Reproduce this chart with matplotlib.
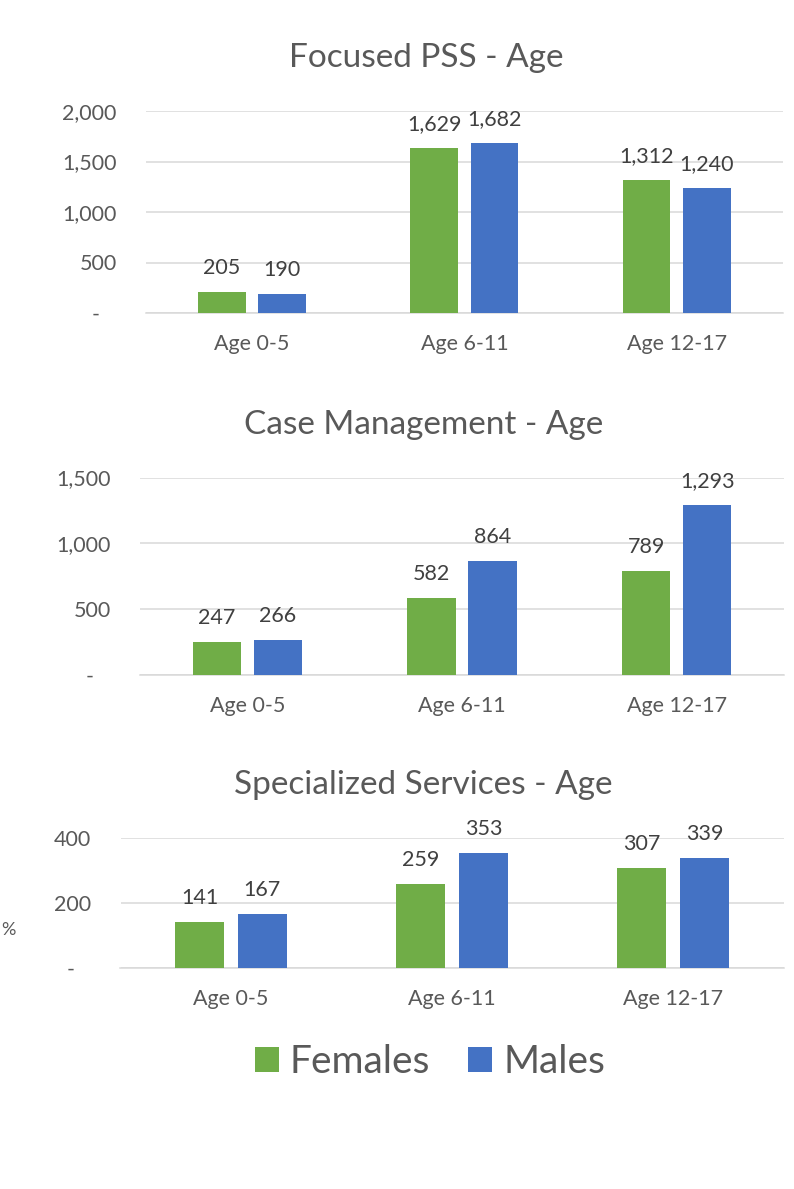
import matplotlib
matplotlib.use("Agg")
import matplotlib.pyplot as plt
from matplotlib.ticker import FuncFormatter
import numpy as np

plt.rcParams['font.family'] = ['Lato', 'DejaVu Sans']

categories = ["Age 0-5", "Age 6-11", "Age 12-17"]
series_names = ["Females", "Males"]

pss_females = [205, 1629, 1312]
pss_males = [190, 1682, 1240]

case_females = [247, 582, 789]
case_males = [266, 864, 1293]

spec_females = [141, 259, 307]
spec_males = [167, 353, 339]

titles = ["Focused PSS - Age", "Case Management - Age", "Specialized Services - Age"]
y_max = [2000, 1500, 400]
y_step = [500, 500, 200]

GREEN = "#70AD47"
BLUE = "#4472C4"
TXT = "#595959"
LBL = "#404040"
GRID = "#D9D9D9"

W, H = 794, 1189
fig = plt.figure(figsize=(W / 100, H / 100), dpi=100)

# axes boxes in pixel coords: left, right, top, bottom
boxes = [(145.75, 783, 111, 313), (140, 784, 477.5, 675), (120.5, 783.5, 838, 968)]
title_pos = [(426, 67), (424, 434), (423, 794)]

data = [(pss_females, pss_males), (case_females, case_males), (spec_females, spec_males)]

fmt = FuncFormatter(lambda v, p: "-   " if v == 0 else f"{int(v):,}")

bw = 0.224
off = 0.142
for i, ((l, r, t, b), (fem, mal)) in enumerate(zip(boxes, data)):
    ax = fig.add_axes([l / W, 1 - b / H, (r - l) / W, (b - t) / H])
    x = np.arange(len(categories))
    bf = ax.bar(x - off, fem, bw, color=GREEN, label=series_names[0], zorder=3)
    bm = ax.bar(x + off, mal, bw, color=BLUE, label=series_names[1], zorder=3)
    ax.set_xlim(-0.5, len(categories) - 0.5)
    ax.set_ylim(0, y_max[i])
    ax.set_yticks(np.arange(0, y_max[i] + 1, y_step[i]))
    ax.yaxis.set_major_formatter(fmt)
    ax.set_xticks(x)
    ax.set_xticklabels(categories)
    ax.grid(axis='y', color=GRID, linewidth=1.1, zorder=0)
    ax.set_axisbelow(True)
    for s in ['left', 'right', 'top']:
        ax.spines[s].set_visible(False)
    ax.spines['bottom'].set_color(GRID)
    ax.spines['bottom'].set_linewidth(1.1)
    ax.spines['bottom'].set_zorder(1)
    ax.tick_params(axis='y', length=0, pad=21, labelsize=15.5, labelcolor=TXT)
    ax.tick_params(axis='x', length=0, pad=15, labelsize=15.5, labelcolor=TXT)
    for bars in (bf, bm):
        for rect in bars:
            h = rect.get_height()
            ax.annotate(f"{int(h):,}", (rect.get_x() + rect.get_width() / 2, h),
                        xytext=(0, 13), textcoords='offset points',
                        ha='center', va='baseline', fontsize=15.5, color=LBL)
    tx, ty = title_pos[i]
    fig.text(tx / W, 1 - ty / H, titles[i], ha='center', va='baseline',
             fontsize=24, color=TXT)
    if i == 0:
        handles = [bf, bm]

fig.text(1 / W, 1 - 935 / H, "%", ha='left', va='baseline', fontsize=13, color=TXT)

fig.legend(handles, series_names, loc='center', bbox_to_anchor=(430 / W, 1 - 1062 / H),
           ncol=2, frameon=False, fontsize=28, labelcolor=TXT,
           handlelength=0.62, handleheight=0.62, handletextpad=0.28,
           columnspacing=0.98, borderpad=0)

fig.savefig("out.png", dpi=100)
